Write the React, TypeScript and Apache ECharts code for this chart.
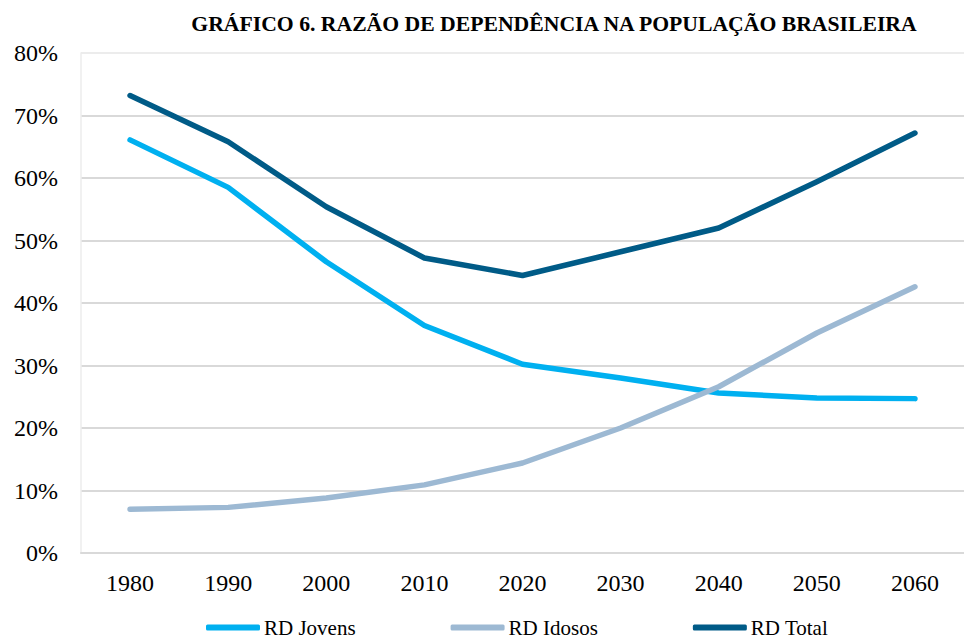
import React, { useEffect, useRef } from "react";
import * as echarts from "echarts";

const titleText = "GRÁFICO 6. RAZÃO DE DEPENDÊNCIA NA POPULAÇÃO BRASILEIRA";
const years = ["1980", "1990", "2000", "2010", "2020", "2030", "2040", "2050", "2060"];
const rdJovens = [66.1, 58.5, 46.6, 36.4, 30.2, 28.0, 25.6, 24.8, 24.7];
const rdIdosos = [7.0, 7.3, 8.8, 10.9, 14.4, 20.0, 26.6, 35.2, 42.6];
const rdTotal = [73.2, 65.8, 55.4, 47.2, 44.4, 48.2, 52.0, 59.4, 67.2];
const seriesNames = ["RD Jovens", "RD Idosos", "RD Total"];
const colors = ["#00B0F0", "#9DB9D3", "#005B87"];

const FONT = "'Liberation Serif', 'DejaVu Serif', serif";

export default function App() {
  const ref = useRef<HTMLDivElement>(null);
  useEffect(() => {
    if (!ref.current) return;
    const chart = echarts.init(ref.current, null, { renderer: "svg" });
    const data = [rdJovens, rdIdosos, rdTotal];
    chart.setOption({
      animation: false,
      backgroundColor: "#ffffff",
      textStyle: { fontFamily: FONT, color: "#000" },
      title: {
        text: titleText,
        left: 549,
        textAlign: "center",
        top: 8,
        textStyle: { fontFamily: FONT, fontWeight: "bold", fontSize: 21.7, color: "#000" },
      },
      legend: {
        bottom: -3,
        left: 201,
        itemGap: 95,
        itemWidth: 54,
        itemHeight: 6,
        icon: "roundRect",
        textStyle: { fontFamily: FONT, fontSize: 21, color: "#000", padding: [0, 0, 0, -1] },
        data: seriesNames,
      },
      grid: { left: 81, right: -10, top: 53, bottom: 87, containLabel: false },
      xAxis: {
        type: "category",
        data: years,
        boundaryGap: true,
        axisLine: { show: true, lineStyle: { color: "#d9d9d9", width: 2 } },
        axisTick: { show: false },
        axisLabel: { fontFamily: FONT, fontSize: 24, color: "#000", margin: 18 },
      },
      yAxis: {
        type: "value",
        min: 0,
        max: 80,
        interval: 10,
        axisLine: { show: true, lineStyle: { color: "#ececec", width: 1.5 } },
        axisTick: { show: false },
        axisLabel: { fontFamily: FONT, fontSize: 24, color: "#000", margin: 23, formatter: "{value}%" },
        splitLine: {
          show: true,
          lineStyle: {
            color: ["#d9d9d9", "#d9d9d9", "#d9d9d9", "#d9d9d9", "#d9d9d9", "#d9d9d9", "#d9d9d9", "#d9d9d9", "#ececec"],
            width: 2,
          },
        },
      },
      series: seriesNames.map((name, i) => ({
        name,
        type: "line",
        data: data[i],
        symbol: "none",
        color: colors[i],
        lineStyle: { width: 5.5, color: colors[i], cap: "round", join: "round" },
        z: 3 + i,
      })),
    });
    return () => chart.dispose();
  }, []);
  return (
    <div
      ref={ref}
      style={{ position: "fixed", left: 0, top: 0, width: 964, height: 640 }}
    />
  );
}
